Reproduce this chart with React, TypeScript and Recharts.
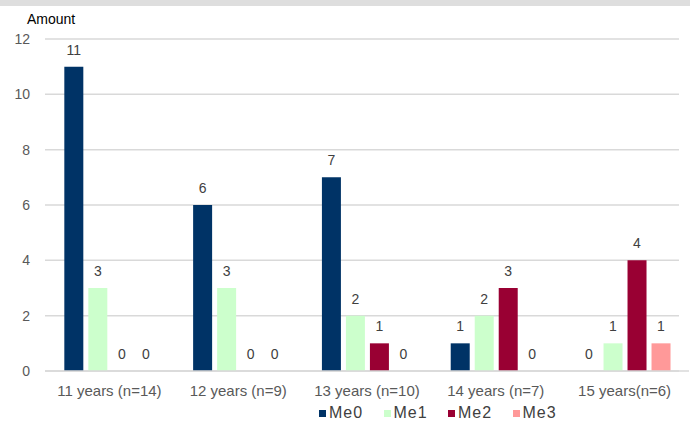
import { BarChart, Bar, XAxis, YAxis, CartesianGrid, Legend, LabelList } from 'recharts';

const categories = ['11 years (n=14)', '12 years (n=9)', '13 years (n=10)', '14 years (n=7)', '15 years(n=6)'];
const me0 = [11, 6, 7, 1, 0];
const me1 = [3, 3, 2, 2, 1];
const me2 = [0, 0, 1, 3, 4];
const me3 = [0, 0, 0, 0, 1];
const yTicks = [0, 2, 4, 6, 8, 10, 12];

const series = [
  { key: 'Me0', color: '#003366' },
  { key: 'Me1', color: '#ccffcc' },
  { key: 'Me2', color: '#990033' },
  { key: 'Me3', color: '#ff9999' },
];

const data = categories.map((name, i) => ({
  name,
  Me0: me0[i],
  Me1: me1[i],
  Me2: me2[i],
  Me3: me3[i],
}));

const FONT = '"Liberation Sans", Arial, sans-serif';

function LegendContent({ payload }: any) {
  return (
    <div style={{ display: 'flex', height: 24, alignItems: 'center', fontFamily: FONT, fontSize: 16, letterSpacing: 1, color: '#404040' }}>
      {(payload || []).map((p: any) => (
        <div key={p.value} style={{ display: 'flex', alignItems: 'center', width: 64.5 }}>
          <span style={{ display: 'inline-block', width: 7, height: 7, background: p.color, marginRight: 3 }} />
          <span>{p.value}</span>
        </div>
      ))}
    </div>
  );
}

export default function App() {
  return (
    <div style={{ position: 'absolute', left: 0, top: 0, width: 690, height: 425, background: '#fff', fontFamily: FONT }}>
      <div style={{ position: 'absolute', left: 0, top: 0, width: 690, height: 6, background: '#dedede' }} />
      <div style={{ position: 'absolute', left: 27, top: 11, fontSize: 14, color: '#000' }}>Amount</div>
      <BarChart
        width={690}
        height={425}
        data={data}
        margin={{ top: 39, right: 1, left: 0, bottom: 0 }}
        barCategoryGap="15%"
        barGap={5}
      >
        <CartesianGrid vertical={false} stroke="#d9d9d9" strokeWidth={1.5} width={634} />
        <XAxis
          dataKey="name"
          height={30}
          axisLine={{ stroke: '#d9d9d9', strokeWidth: 1.5 }}
          tickLine={false}
          tickMargin={8}
          tick={{ fill: '#595959', fontSize: 15 }}
          interval={0}
        />
        <YAxis
          width={45}
          domain={[0, 12]}
          ticks={yTicks}
          axisLine={false}
          tickLine={false}
          tickMargin={9}
          tick={{ fill: '#595959', fontSize: 14 }}
        />
        <Legend
          verticalAlign="bottom"
          align="left"
          wrapperStyle={{ left: 319, width: 300 }}
          content={LegendContent}
        />
        {series.map((s) => (
          <Bar key={s.key} dataKey={s.key} fill={s.color} minPointSize={0.01} isAnimationActive={false}>
            <LabelList dataKey={s.key} position="top" offset={12} fill="#404040" fontSize={14} />
          </Bar>
        ))}
      </BarChart>
    </div>
  );
}
